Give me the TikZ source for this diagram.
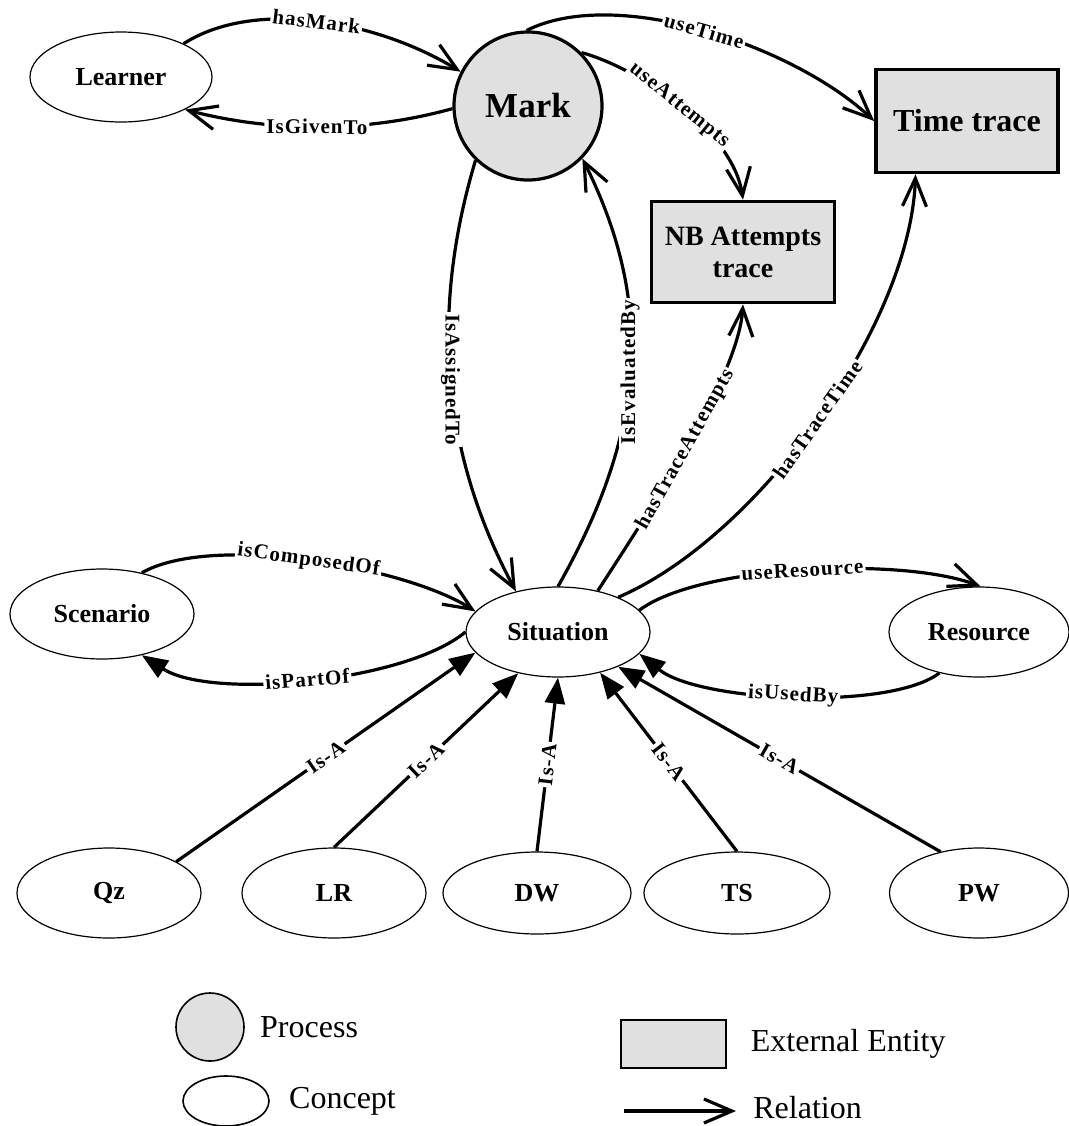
\documentclass[tikz,border=0pt]{standalone}
\usepackage{fontspec}
\setmainfont{Liberation Serif}
\newfontfamily\relfont{Liberation Serif}[LetterSpace=5]
\usetikzlibrary{positioning}
\usetikzlibrary{shapes.geometric}
\usetikzlibrary{arrows.meta}
\definecolor{boxgray}{gray}{0.88}

\begin{document}
\begin{tikzpicture}[x=0.5pt,y=-0.5pt,
	concept/.style={ellipse, draw=black, line width=0.6pt, inner sep=0pt, minimum width=92pt, minimum height=45pt, font=\bfseries\fontsize{13}{15}\selectfont},
	process/.style={circle, draw=black, fill=boxgray, line width=1.6pt, inner sep=0pt, minimum size=74pt, font=\bfseries\fontsize{17.5}{20}\selectfont},
	extbox/.style={rectangle, draw=black, fill=boxgray, line width=1.8pt, inner sep=0pt, minimum width=91pt, minimum height=51pt, align=center},
	rel/.style={line width=1.6pt, -{Straight Barb[length=14pt,width=12pt]}},
	isa/.style={line width=1.6pt, -{Triangle[length=13pt,width=10pt]}},
	lbl/.style={fill=white, inner sep=1pt, font=\relfont\bfseries\fontsize{10.5}{12}\selectfont},
	legtext/.style={inner sep=0pt, font=\fontsize{16}{18}\selectfont}]
	\useasboundingbox (0,0) rectangle (1069,1126);

	% concepts, process and external entities
	\node[process] (mark) at (528,106) {Mark};
	\node[concept, minimum width=91pt] (learner) at (121,77) {Learner};
	\node[extbox, font=\bfseries\fontsize{16}{18}\selectfont, minimum height=51.5pt] (timetr) at (967,121) {Time trace};
	\node[extbox, font=\bfseries\fontsize{14}{16}\selectfont, minimum width=91.5pt, minimum height=50.5pt] (nbatt) at (743,252) {NB Attempts\\trace};
	\node[concept] (scenario) at (102,614) {Scenario};
	\node[concept] (situation) at (558,632) {Situation};
	\node[concept, minimum width=90pt] (resource) at (979,632) {Resource};
	\node[concept] (qz) at (109,893) {Qz};
	\node[concept] (lr) at (334,893) {LR};
	\node[concept, minimum width=94pt, minimum height=41pt] (dw) at (537,893) {DW};
	\node[concept, minimum width=93pt, minimum height=41pt] (ts) at (737,893) {TS};
	\node[concept, minimum width=89.5pt] (pw) at (979,893) {PW};

	% relations around Mark
	\draw[rel] (learner.28) .. controls +(70,-45) and +(-85,-52) .. node[lbl, sloped, pos=.5] {hasMark} (mark.153);
	\draw[rel] (mark.182) .. controls +(-90,25) and +(85,22) .. node[lbl, sloped, pos=.5] {IsGivenTo} (learner.-27);
	\draw[rel] (mark.91) .. controls +(90,-45) and +(-80,-75) .. node[lbl, sloped, pos=.5] {useTime} (timetr.west);
	\draw[rel] (mark.45) .. controls +(55,15) and +(-10,-70) .. node[lbl, sloped, pos=.5] {useAttempts} (nbatt.north);
	\draw[rel] (mark.226) .. controls +(-45,150) and +(-75,-140) .. node[lbl, rotate=-90, pos=.5] {IsAssignedTo} (situation.136);
	\draw[rel] (situation.90) .. controls +(85,-150) and +(75,150) .. node[lbl, rotate=90, pos=.5] {IsEvaluatedBy} (mark.-44);

	% traces
	\draw[rel] (situation.46) .. controls +(45,-70) and +(-5,75) .. node[lbl, sloped, pos=.5] {hasTraceAttempts} (nbatt.south);
	\draw[rel] (situation.30) .. controls +(140,-60) and +(-5,150) .. node[lbl, sloped, pos=.5] {hasTraceTime} (timetr.226);

	% scenario and resource
	\draw[rel] (scenario.46) .. controls +(70,-40) and +(-70,-45) .. node[lbl, sloped, pos=.5] {isComposedOf} (situation.166);
	\draw[isa] (situation.180) .. controls +(-60,50) and +(70,45) .. node[lbl, sloped, pos=.5] {isPartOf} (scenario.-46);
	\draw[rel] (situation.15) .. controls +(60,-45) and +(-80,-30) .. node[lbl, sloped, pos=.5] {useResource} (resource.88);
	\draw[isa] (resource.226) .. controls +(-50,38) and +(60,48) .. node[lbl, sloped, pos=.5] {isUsedBy} (situation.-15);

	% kinds of situation
	\draw[isa] (qz.25) -- node[lbl, sloped] {Is-A} (situation.194);
	\draw[isa] (lr.north) -- node[lbl, sloped] {Is-A} (situation.226);
	\draw[isa] (dw.north) -- node[lbl, sloped] {Is-A} (situation.south);
	\draw[isa] (ts.north) -- node[lbl, sloped] {Is-A} (situation.-44);
	\draw[isa] (pw.133) -- node[lbl, sloped] {Is-A} (situation.-30);

	% legend
	\node[ellipse, draw=black, fill=boxgray, line width=0.8pt, minimum width=34pt, minimum height=34pt] (procleg) at (210,1027) {};
	\node[legtext, right=7.5pt of procleg] (proctxt) {Process};
	\node[ellipse, draw=black, line width=0.8pt, minimum width=43pt, minimum height=25pt] (conleg) at (226,1101) {};
	\node[legtext, right=9.5pt of conleg] (contxt) {Concept};
	\node[rectangle, draw=black, fill=boxgray, line width=1pt, minimum width=52.5pt, minimum height=24pt] (extleg) at (673,1044) {};
	\node[legtext, right=12pt of extleg] (exttxt) {External Entity};
	\coordinate (relstart) at (624,1111);
	\node[legtext, anchor=west] (reltxt) at (753,1108) {Relation};
	\draw[rel] (relstart) -- ([xshift=-8.5pt]reltxt.west |- relstart);
\end{tikzpicture}
\end{document}
